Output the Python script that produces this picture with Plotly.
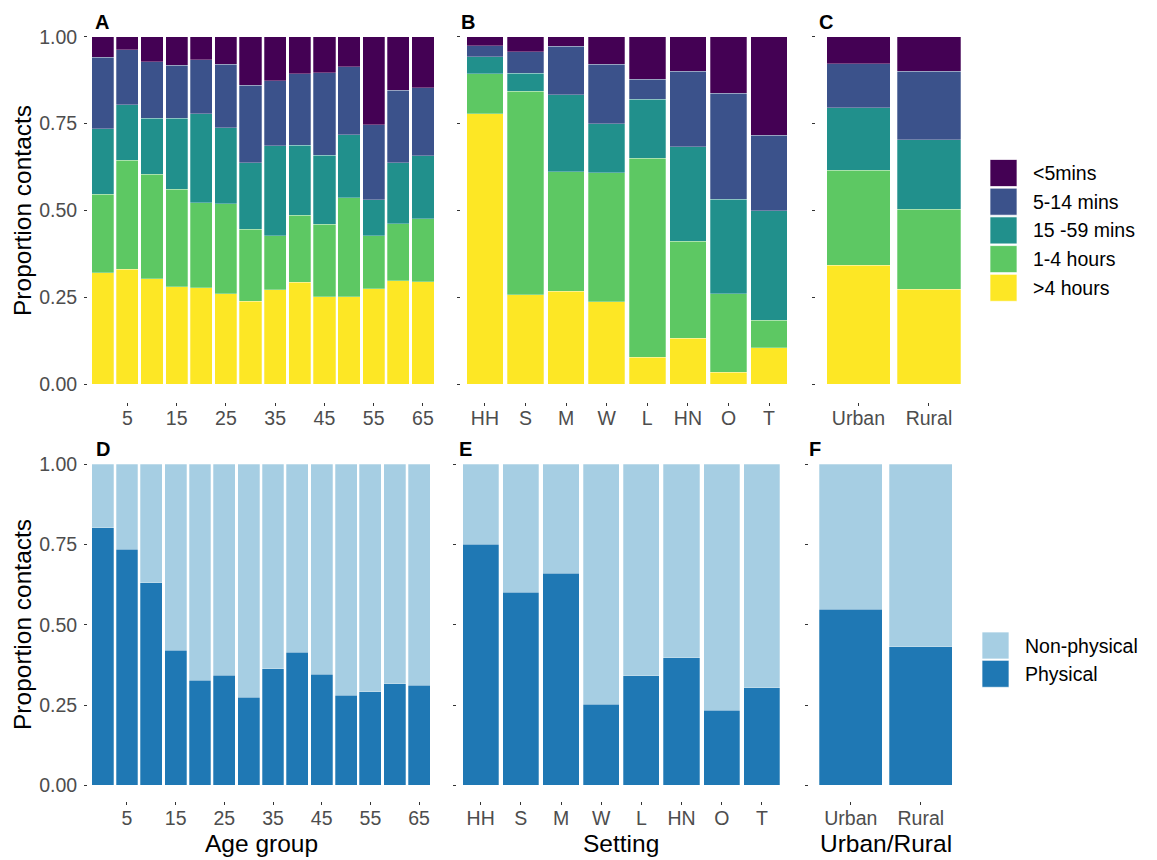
import plotly.graph_objects as go

W, H = 1157, 860
FONT = "Liberation Sans, Arial, sans-serif"

# ---- categories ----
age_groups = [0, 5, 10, 15, 20, 25, 30, 35, 40, 45, 50, 55, 60, 65]
age_ticks = [5, 15, 25, 35, 45, 55, 65]
settings = ["HH", "S", "M", "W", "L", "HN", "O", "T"]
areas = ["Urban", "Rural"]

duration_levels = [">4 hours", "1-4 hours", "15 -59 mins", "5-14 mins", "<5mins"]
duration_colors = ["#FDE725", "#5DC863", "#21908C", "#3B528B", "#440154"]
touch_levels = ["Physical", "Non-physical"]
touch_colors = ["#1F78B4", "#A6CEE3"]

# ---- contact duration proportions by age group (panel A) ----
age_gt4h = [0.321, 0.331, 0.303, 0.280, 0.278, 0.261, 0.239, 0.272, 0.293, 0.252, 0.252, 0.275, 0.298, 0.295]
age_1to4h = [0.226, 0.314, 0.302, 0.281, 0.245, 0.259, 0.207, 0.155, 0.194, 0.208, 0.285, 0.152, 0.164, 0.181]
age_15to59m = [0.188, 0.159, 0.161, 0.205, 0.256, 0.218, 0.191, 0.259, 0.200, 0.199, 0.181, 0.104, 0.176, 0.181]
age_5to14m = [0.206, 0.159, 0.162, 0.152, 0.154, 0.183, 0.224, 0.187, 0.206, 0.237, 0.196, 0.215, 0.208, 0.196]
age_lt5m = [0.059, 0.037, 0.072, 0.082, 0.067, 0.079, 0.139, 0.127, 0.107, 0.104, 0.086, 0.254, 0.154, 0.147]

# ---- contact duration proportions by setting (panel B) ----
set_gt4h = [0.778, 0.258, 0.268, 0.238, 0.078, 0.133, 0.035, 0.105]
set_1to4h = [0.116, 0.585, 0.343, 0.370, 0.572, 0.278, 0.225, 0.079]
set_15to59m = [0.048, 0.052, 0.222, 0.141, 0.170, 0.272, 0.272, 0.316]
set_5to14m = [0.032, 0.062, 0.140, 0.172, 0.058, 0.217, 0.306, 0.216]
set_lt5m = [0.026, 0.043, 0.027, 0.079, 0.122, 0.100, 0.162, 0.284]

# ---- contact duration proportions by area (panel C) ----
area_gt4h = [0.342, 0.274]
area_1to4h = [0.274, 0.230]
area_15to59m = [0.179, 0.200]
area_5to14m = [0.127, 0.196]
area_lt5m = [0.078, 0.100]

# ---- physical / non-physical proportions (panels D-F) ----
age_physical = [0.803, 0.735, 0.631, 0.421, 0.328, 0.343, 0.275, 0.363, 0.414, 0.346, 0.281, 0.291, 0.317, 0.312]
age_nonphysical = [0.197, 0.265, 0.369, 0.579, 0.672, 0.657, 0.725, 0.637, 0.586, 0.654, 0.719, 0.709, 0.683, 0.688]
set_physical = [0.751, 0.601, 0.660, 0.252, 0.341, 0.397, 0.234, 0.304]
set_nonphysical = [0.249, 0.399, 0.340, 0.748, 0.659, 0.603, 0.766, 0.696]
area_physical = [0.549, 0.431]
area_nonphysical = [0.451, 0.569]


def xdom(left, right):
    return [left / W, right / W]


def ydom(top, bottom):
    return [1 - bottom / H, 1 - top / H]


fig = go.Figure()

bar_line = dict(color="rgba(255,255,255,0.55)", width=0.5)


def add_stack(xs, series, colors, names, xaxis, yaxis, width):
    for vals, col, name in zip(series, colors, names):
        fig.add_trace(go.Bar(
            x=xs, y=vals, name=name, width=width,
            marker=dict(color=col, line=bar_line),
            xaxis=xaxis, yaxis=yaxis, showlegend=False,
        ))


add_stack(age_groups, [age_gt4h, age_1to4h, age_15to59m, age_5to14m, age_lt5m],
          duration_colors, duration_levels, "x", "y", 4.5)
add_stack(settings, [set_gt4h, set_1to4h, set_15to59m, set_5to14m, set_lt5m],
          duration_colors, duration_levels, "x2", "y2", 0.9)
add_stack(areas, [area_gt4h, area_1to4h, area_15to59m, area_5to14m, area_lt5m],
          duration_colors, duration_levels, "x3", "y3", 0.9)
add_stack(age_groups, [age_physical, age_nonphysical],
          touch_colors, touch_levels, "x4", "y4", 4.5)
add_stack(settings, [set_physical, set_nonphysical],
          touch_colors, touch_levels, "x5", "y5", 0.9)
add_stack(areas, [area_physical, area_nonphysical],
          touch_colors, touch_levels, "x6", "y6", 0.9)

tick_font = dict(family=FONT, size=19.5, color="#4D4D4D")
common = dict(showgrid=False, zeroline=False, showline=False, ticks="outside",
              ticklen=3, tickwidth=1, tickcolor="#333333", tickfont=tick_font,
              fixedrange=True)

y_vals = [0, 0.25, 0.5, 0.75, 1.0]
y_text = ["0.00", "0.25", "0.50", "0.75", "1.00"]

top_rows = ydom(19.3, 401.7)
bot_rows = ydom(448.25, 801.35)

panels = [
    # (axis suffix, x px span, row domain, x config, y labels shown)
    ("", (88.0, 437.7), top_rows, dict(type="linear", range=[-3, 68], tickvals=age_ticks), True),
    ("2", (460.6, 793.4), top_rows, dict(type="category", range=[-0.6, 7.6]), False),
    ("3", (816.1, 971.3), top_rows, dict(type="category", range=[-0.6, 1.6]), False),
    ("4", (88.0, 433.7), bot_rows, dict(type="linear", range=[-3, 68], tickvals=age_ticks), True),
    ("5", (456.6, 786.0), bot_rows, dict(type="category", range=[-0.6, 7.6]), False),
    ("6", (808.8, 962.8), bot_rows, dict(type="category", range=[-0.6, 1.6]), False),
]

layout_axes = {}
for suf, (xl, xr), ydomain, xcfg, ylab in panels:
    layout_axes["xaxis" + suf] = dict(domain=xdom(xl, xr), anchor="y" + suf,
                                      ticklabelstandoff=-4, **xcfg, **common)
    layout_axes["yaxis" + suf] = dict(domain=ydomain, anchor="x" + suf, range=[-0.05, 1.05],
                                      tickvals=y_vals, ticktext=y_text,
                                      showticklabels=ylab, ticklabelstandoff=3, **common)

fig.update_layout(**layout_axes)

annotations = []
shapes = []


def text_at(x, y, txt, size, color="black", bold=False, xanchor="center", angle=0):
    annotations.append(dict(
        x=x / W, y=1 - y / H, xref="paper", yref="paper", text=("<b>%s</b>" % txt) if bold else txt,
        showarrow=False, xanchor=xanchor, yanchor="middle", textangle=angle,
        font=dict(family=FONT, size=size, color=color),
    ))


# panel tags
for tag, x, y in [("A", 93, 22), ("B", 459, 22), ("C", 817, 22),
                  ("D", 94, 449), ("E", 457, 449), ("F", 807, 449)]:
    text_at(x, y, tag, 20, bold=True, xanchor="left")

# axis titles
text_at(22, 211, "Proportion contacts", 24.5, angle=-90)
text_at(22, 625, "Proportion contacts", 24.5, angle=-90)
text_at(261, 843, "Age group", 24.5)
text_at(621, 843, "Setting", 24.5)
text_at(886, 843, "Urban/Rural", 24.5)


def legend_block(levels, colors, kx0, ky0, size, pitch, tx):
    for i, (lab, col) in enumerate(zip(levels, colors)):
        top = ky0 + i * pitch
        shapes.append(dict(type="rect", xref="paper", yref="paper",
                           x0=kx0 / W, x1=(kx0 + size) / W,
                           y0=1 - (top + size) / H, y1=1 - top / H,
                           fillcolor=col, line=dict(color="rgba(255,255,255,0.7)", width=1)))
        text_at(tx, top + size / 2, lab, 19.5, xanchor="left")


legend_block(duration_levels[::-1], duration_colors[::-1], 990, 159.5, 27, 28.7, 1031)
legend_block(touch_levels[::-1], touch_colors[::-1], 982, 632, 27, 28.3, 1023)

fig.update_layout(
    width=W, height=H, margin=dict(l=0, r=0, t=0, b=0),
    paper_bgcolor="white", plot_bgcolor="white",
    barmode="stack", bargap=0.1, showlegend=False,
    annotations=annotations, shapes=shapes,
    font=dict(family=FONT),
)

fig.write_html("out.html")
